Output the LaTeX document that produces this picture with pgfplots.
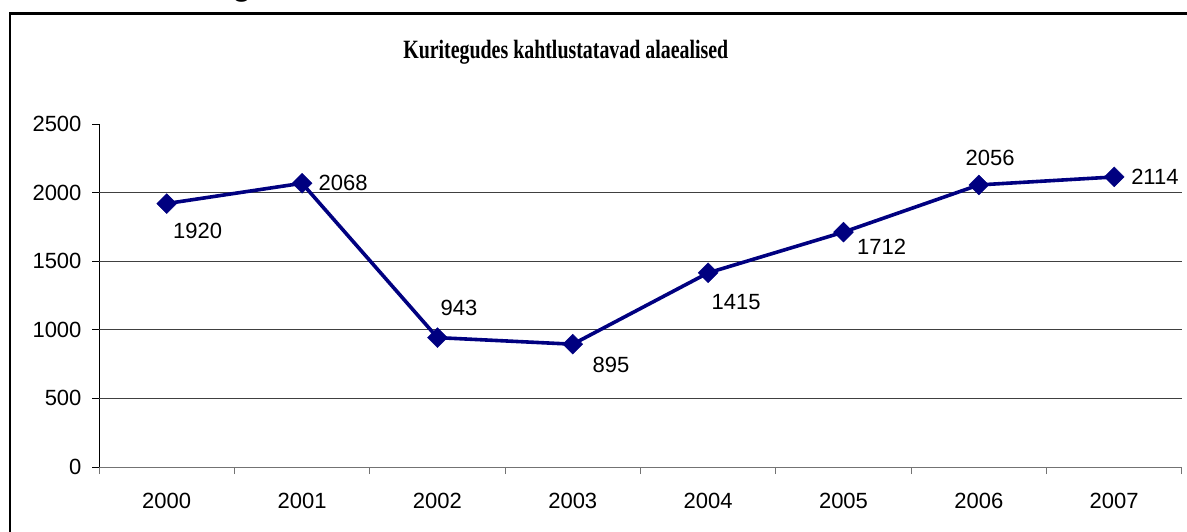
\documentclass[border=0pt]{standalone}
\usepackage{pgfplots}
\pgfplotsset{compat=1.18}
\usepackage{pgfplotstable}
\usepackage{fontspec}
\setmainfont{Liberation Sans}
\newfontfamily\titlefont{Liberation Serif}
\definecolor{navyline}{HTML}{000080}
\pgfplotstableread{
x y dx dy
0 1920 31.0 -27.7
1 2068 41.1 0.6
2 943 21.5 29.9
3 895 38.3 -20.8
4 1415 28.0 -28.8
5 1712 38.2 -15.2
6 2056 11.3 26.6
7 2114 40.7 0.3
}\datatable
\begin{document}
\begin{tikzpicture}
\begin{axis}[
  at={(99pt,64pt)}, anchor=south west,
  scale only axis, width=1083pt, height=343pt,
  xmin=-0.5, xmax=7.5, ymin=0, ymax=2500,
  axis x line*=bottom, axis y line*=left,
  x axis line style={black!55, line width=1pt},
  y axis line style={black, line width=1pt},
  tick align=outside,
  xtick={0,...,7},
  xticklabels={2000,2001,2002,2003,2004,2005,2006,2007},
  major x tick style={draw=none},
  minor xtick={-0.5,0.5,...,7.5},
  minor x tick style={black!55, line width=1pt},
  minor tick length=7pt,
  ytick={0,500,...,2500},
  major tick length=7pt,
  y tick style={black, line width=1pt},
  extra y ticks={500,1000,1500,2000},
  extra y tick labels={},
  extra y tick style={grid=major, major tick length=0pt},
  major grid style={black!75, line width=1pt},
  /pgf/number format/assume math mode=true,
  /pgf/number format/1000 sep={},
  tick label style={font=\fontsize{22}{26}\selectfont},
  xticklabel style={anchor=base, yshift=-34pt},
  yticklabel style={anchor=east, xshift=-7pt},
  clip=false,
]
\addplot[navyline, line width=3.6pt, mark=square*,
  mark size=7pt,
  mark options={solid, fill=navyline, draw=navyline, line width=0.5pt, rotate=45},
  visualization depends on={\thisrow{dx} \as \dx},
  visualization depends on={\thisrow{dy} \as \dy},
  nodes near coords,
  point meta=explicit symbolic,
  every node near coord/.append style={anchor=center, inner sep=0pt, black,
     font=\fontsize{22}{26}\selectfont, xshift=\dx pt, yshift=\dy pt},
] table[x=x, y=y, meta=y] {\datatable};
\end{axis}
% cut-off heading letter above the frame
\node[anchor=base west, inner sep=0pt, font=\fontsize{32}{36}\selectfont\bfseries] at (232pt,535.5pt) {g};
% chart frame (extends beyond the picture)
\draw[line width=2.8pt, black] (10pt,-40pt) -- (10pt,517.2pt) -- (1240pt,517.2pt);
\node[anchor=base, inner sep=0pt] at (565.8pt,472.7pt)
  {\resizebox{325pt}{18.3pt}{\titlefont\bfseries Kuritegudes kahtlustatavad alaealised}};
\pgfresetboundingbox
\path[use as bounding box] (0pt,0pt) rectangle (1187pt,531pt);
\end{tikzpicture}
\end{document}
